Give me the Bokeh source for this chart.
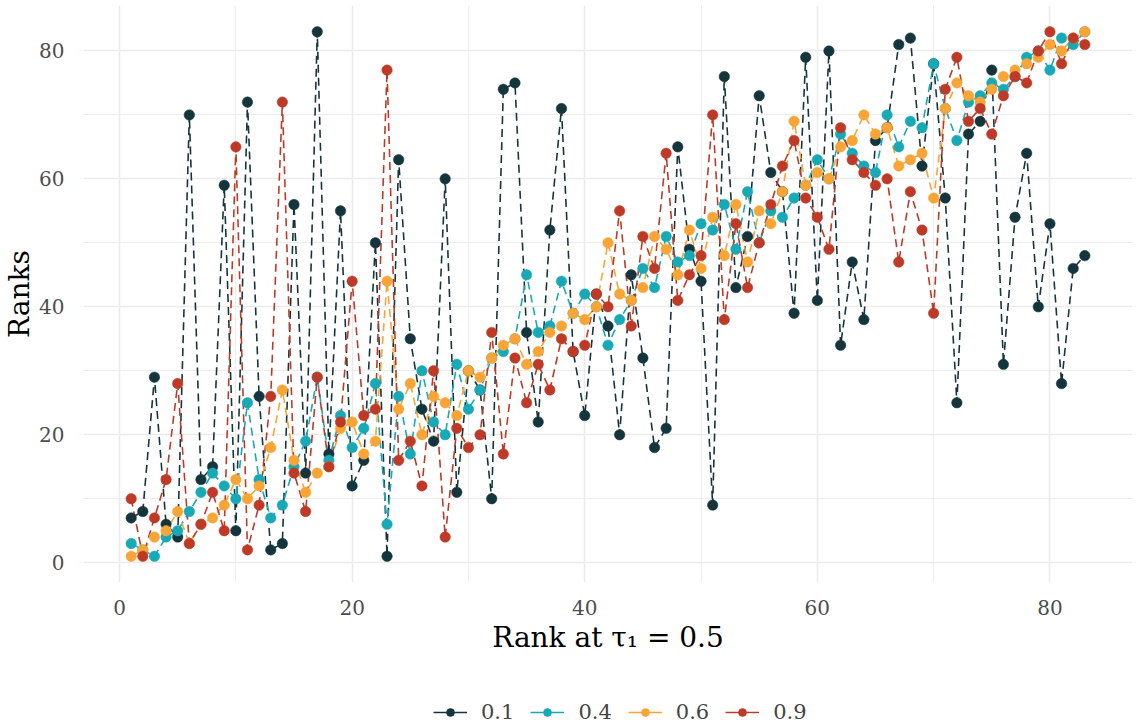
from bokeh.plotting import figure
from bokeh.layouts import column
from bokeh.models import Legend, LegendItem, FixedTicker, Range1d
from bokeh.embed import file_html
from bokeh.resources import INLINE

x = list(range(1, 84))

q01 = [7, 8, 29, 6, 4, 70, 13, 15, 59, 5, 72, 26, 2, 3, 56, 14, 83, 17, 55, 12,
       16, 50, 1, 63, 35, 24, 19, 60, 11, 30, 27, 10, 74, 75, 36, 22, 52, 71, 33, 23,
       42, 37, 20, 45, 32, 18, 21, 65, 49, 44, 9, 76, 43, 51, 73, 61, 58, 39, 79, 41,
       80, 34, 47, 38, 66, 68, 81, 82, 62, 78, 57, 25, 67, 69, 77, 31, 54, 64, 40, 53,
       28, 46, 48]
q04 = [3, 2, 1, 4, 5, 8, 11, 14, 12, 10, 25, 13, 7, 9, 15, 19, 29, 16, 23, 18,
       21, 28, 6, 26, 17, 30, 22, 20, 31, 24, 27, 32, 33, 35, 45, 36, 37, 44, 39, 42,
       40, 34, 38, 41, 46, 43, 51, 47, 48, 53, 52, 56, 49, 58, 50, 55, 54, 57, 59, 63,
       60, 67, 64, 62, 61, 70, 65, 69, 68, 78, 71, 66, 72, 73, 75, 74, 76, 79, 80, 77,
       82, 81, 83]
q06 = [1, 2, 4, 5, 8, 3, 6, 7, 9, 13, 10, 12, 18, 27, 16, 11, 14, 15, 21, 22,
       17, 19, 44, 24, 28, 20, 26, 25, 23, 30, 29, 32, 34, 35, 31, 33, 36, 37, 39, 38,
       40, 50, 42, 41, 43, 51, 49, 45, 52, 46, 54, 48, 56, 47, 55, 53, 58, 69, 59, 61,
       60, 65, 66, 70, 67, 68, 62, 63, 64, 57, 71, 75, 73, 72, 74, 76, 77, 78, 79, 81,
       80, 82, 83]
q09 = [10, 1, 7, 13, 28, 3, 6, 11, 5, 65, 2, 9, 26, 72, 14, 8, 29, 15, 22, 44,
       23, 24, 77, 16, 19, 12, 30, 4, 21, 18, 20, 36, 17, 32, 25, 31, 27, 35, 33, 34,
       42, 40, 55, 37, 51, 46, 64, 41, 45, 48, 70, 38, 53, 43, 50, 56, 62, 66, 57, 54,
       49, 68, 63, 61, 59, 60, 47, 58, 52, 39, 74, 79, 69, 71, 67, 73, 76, 75, 80, 83,
       78, 82, 81]

labels = ["0.1", "0.4", "0.6", "0.9"]
colors = ["#15353D", "#17A9B6", "#F8A535", "#BE3A26"]
series = [q01, q04, q06, q09]
ticks = [0, 20, 40, 60, 80]

FONT = "DejaVu Serif"

p = figure(frame_width=1049, frame_height=577, output_backend="svg", toolbar_location=None,
           x_range=Range1d(-3.1, 87.1), y_range=Range1d(-3.1, 87.1),
           min_border_left=81, min_border_right=7, min_border_top=5,
           min_border_bottom=90)

p.background_fill_color = "white"
p.border_fill_color = "white"
p.outline_line_color = None

for ax, tk in ((p.xaxis, ticks), (p.yaxis, ticks)):
    ax.ticker = FixedTicker(ticks=tk, minor_ticks=[10, 30, 50, 70])
    ax.axis_line_color = None
    ax.major_tick_line_color = None
    ax.minor_tick_line_color = None
    ax.major_label_text_font = FONT
    ax.major_label_text_font_size = "20px"
    ax.major_label_text_color = "#4D4D4D"
    ax.axis_label_text_font = FONT
    ax.axis_label_text_font_size = "28px"
    ax.axis_label_text_font_style = "normal"
    ax.axis_label_text_color = "black"

p.xaxis.axis_label = "Rank at \u03c4\u2081 = 0.5"
p.yaxis.axis_label = "Ranks"
p.xaxis.major_label_standoff = 11
p.yaxis.major_label_standoff = 13
p.xaxis.axis_label_standoff = 3
p.yaxis.axis_label_standoff = 0

for g in (p.xgrid, p.ygrid):
    g.grid_line_color = "#EBEBEB"
    g.grid_line_width = 1.6
    g.minor_grid_line_color = "#EBEBEB"
    g.minor_grid_line_width = 0.9

for s, c in zip(series, colors):
    p.line(x, s, line_color=c, line_width=1.6, line_dash="8 5")
for s, c in zip(series, colors):
    p.scatter(x, s, size=10.5, fill_color=c, line_color=c, line_width=0.5)

# legend strip: same series drawn outside its view, only the legend shows
lg = figure(width=1137, height=56, output_backend="svg", toolbar_location=None,
            x_range=Range1d(-20, -19), y_range=Range1d(-20, -19),
            x_axis_type=None, y_axis_type=None,
            min_border=0, min_border_left=0, min_border_right=0,
            min_border_top=0, min_border_bottom=0)
lg.outline_line_color = None
lg.grid.visible = False
items = []
for l, s, c in zip(labels, series, colors):
    lr = lg.line(x, s, line_color=c, line_width=1.6)
    pr = lg.scatter(x, s, size=10.5, fill_color=c, line_color=c, line_width=0.5)
    items.append(LegendItem(label=l, renderers=[lr, pr]))
legend = Legend(items=items, orientation="horizontal", location=(350, 4),
                label_text_font=FONT, label_text_font_size="21px",
                glyph_width=34, glyph_height=20, label_standoff=14, spacing=16,
                border_line_color=None, background_fill_alpha=0,
                margin=0, padding=0)
lg.add_layout(legend, "center")

layout = column(p, lg, spacing=0)
open("out.html", "w").write(file_html(layout, INLINE))
